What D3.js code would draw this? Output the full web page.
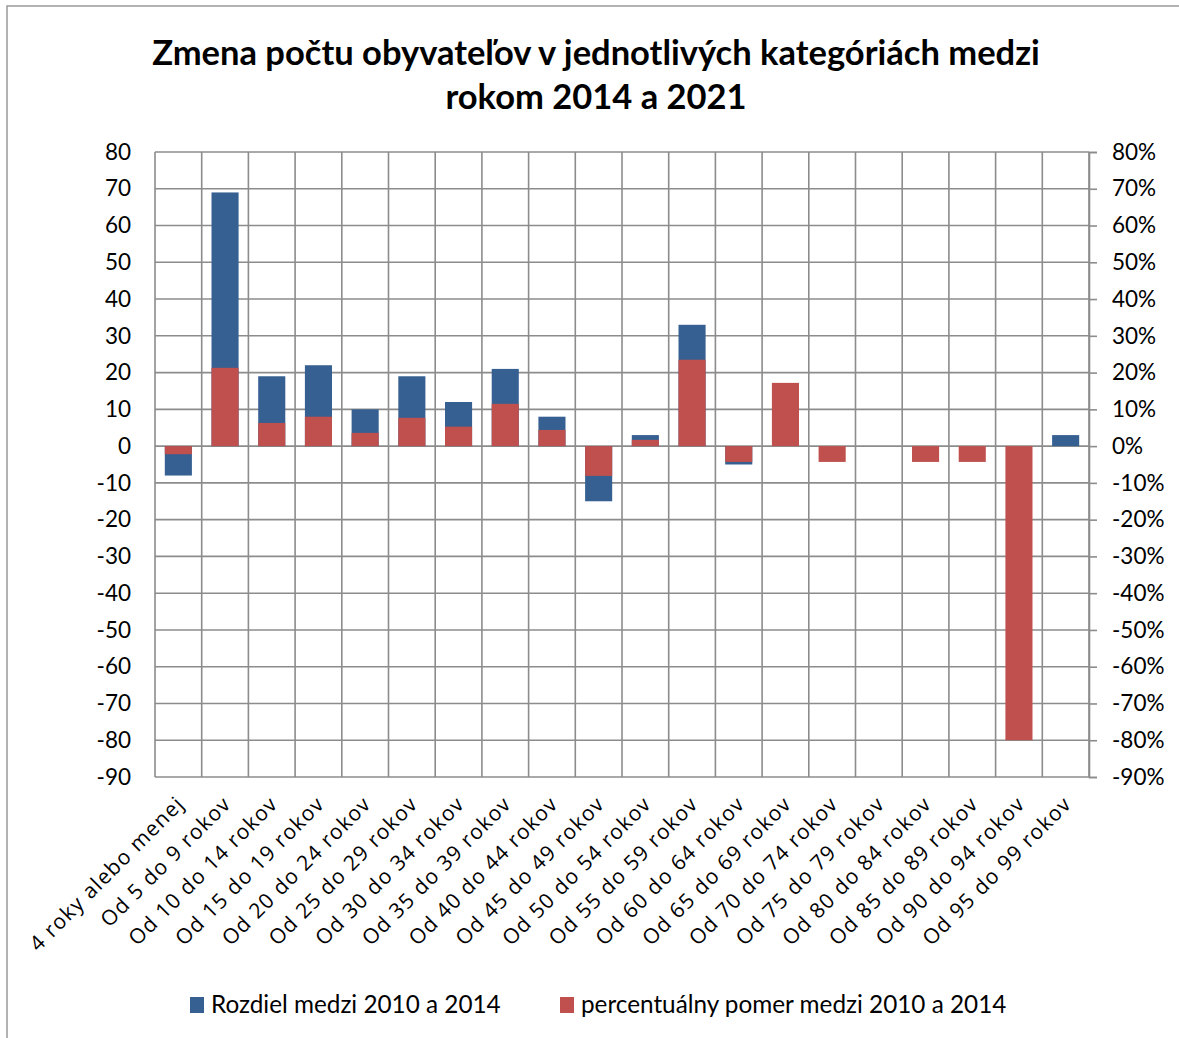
<!DOCTYPE html>
<html>
<head>
<meta charset="utf-8">
<script src="https://cdn.jsdelivr.net/npm/d3@7"></script>
<style>
  body { margin: 0; background: #fff; }
  svg { display: block; font-family: "Lato", "Open Sans", sans-serif; }
</style>
</head>
<body>
<svg id="chart" width="1179" height="1038"></svg>
<script>
const categories = [
  "4 roky alebo menej", "Od 5 do 9 rokov", "Od 10 do 14 rokov", "Od 15 do 19 rokov",
  "Od 20 do 24 rokov", "Od 25 do 29 rokov", "Od 30 do 34 rokov", "Od 35 do 39 rokov",
  "Od 40 do 44 rokov", "Od 45 do 49 rokov", "Od 50 do 54 rokov", "Od 55 do 59 rokov",
  "Od 60 do 64 rokov", "Od 65 do 69 rokov", "Od 70 do 74 rokov", "Od 75 do 79 rokov",
  "Od 80 do 84 rokov", "Od 85 do 89 rokov", "Od 90 do 94 rokov", "Od 95 do 99 rokov"
];
// Rozdiel medzi 2010 a 2014 (left axis)
const rozdiel = [-8, 69, 19, 22, 10, 19, 12, 21, 8, -15, 3, 33, -5, 0, 0, 0, 0, 0, 0, 3];
// percentuálny pomer medzi 2010 a 2014 (right axis, %)
const pomer = [-2.2, 21.3, 6.3, 8.0, 3.6, 7.7, 5.3, 11.5, 4.4, -8.1, 1.7, 23.5, -4.3, 17.2, -4.3, 0, -4.3, -4.3, -80, 0];
const leftTicks = [80, 70, 60, 50, 40, 30, 20, 10, 0, -10, -20, -30, -40, -50, -60, -70, -80, -90];

const title = ["Zmena počtu obyvateľov v jednotlivých kategóriách medzi", "rokom 2014 a 2021"];
const seriesNames = ["Rozdiel medzi 2010 a 2014", "percentuálny pomer medzi 2010 a 2014"];
const colors = ["#366092", "#C0504D"];

const svg = d3.select("#chart");
const margin = { left: 155, right: 1089, top: 152, bottom: 777 };
const gridColor = "#8c8c8c";

// chart border (left and top edges visible)
svg.append("path")
  .attr("d", "M7,1038 L7,6 L1179,6")
  .attr("fill", "none")
  .attr("stroke", "#999")
  .attr("stroke-width", 1.5);

// title
svg.append("g")
  .selectAll("text")
  .data(title)
  .enter()
  .append("text")
  .attr("x", 596)
  .attr("y", (d, i) => 65 + i * 44)
  .attr("text-anchor", "middle")
  .attr("font-weight", "bold")
  .attr("font-size", 34.5)
  .attr("fill", "#000")
  .text((d) => d);

const x = d3.scaleBand().domain(categories).range([margin.left, margin.right]).paddingInner(0).paddingOuter(0);
const yLeft = d3.scaleLinear().domain([-90, 80]).range([margin.bottom, margin.top]);
const yRight = d3.scaleLinear().domain([-0.9, 0.8]).range([margin.bottom, margin.top]);

// horizontal gridlines
svg.append("g")
  .selectAll("line")
  .data(leftTicks)
  .enter()
  .append("line")
  .attr("x1", margin.left)
  .attr("x2", margin.right)
  .attr("y1", (d) => yLeft(d))
  .attr("y2", (d) => yLeft(d))
  .attr("stroke", gridColor)
  .attr("stroke-width", 1.6);

// vertical gridlines at category boundaries
const bounds = categories.map((c) => x(c)).concat([margin.right]);
svg.append("g")
  .selectAll("line")
  .data(bounds)
  .enter()
  .append("line")
  .attr("x1", (d) => d)
  .attr("x2", (d) => d)
  .attr("y1", margin.top)
  .attr("y2", margin.bottom)
  .attr("stroke", gridColor)
  .attr("stroke-width", 1.6);

const barW = x.bandwidth() * 0.58;
const barOff = (x.bandwidth() - barW) / 2;

// blue series (behind)
svg.append("g")
  .selectAll("rect")
  .data(rozdiel)
  .enter()
  .append("rect")
  .attr("x", (d, i) => x(categories[i]) + barOff)
  .attr("width", barW)
  .attr("y", (d) => yLeft(Math.max(d, 0)))
  .attr("height", (d) => Math.abs(yLeft(d) - yLeft(0)))
  .attr("fill", colors[0]);

// red series (front)
svg.append("g")
  .selectAll("rect")
  .data(pomer)
  .enter()
  .append("rect")
  .attr("x", (d, i) => x(categories[i]) + barOff)
  .attr("width", barW)
  .attr("y", (d) => yRight(Math.max(d / 100, 0)))
  .attr("height", (d) => Math.abs(yRight(d / 100) - yRight(0)))
  .attr("fill", colors[1]);

const hyphen = (s) => s.replace("\u2212", "-");

// left axis
const leftAxis = svg.append("g")
  .attr("transform", `translate(${margin.left},0)`)
  .call(d3.axisLeft(yLeft).tickValues(leftTicks).tickSize(0).tickPadding(24)
    .tickFormat((d) => hyphen(d3.format("d")(d))));
leftAxis.select(".domain").remove();
leftAxis.selectAll("text").attr("font-size", 22.5).attr("fill", "#000").attr("font-family", "Lato, 'Open Sans', sans-serif");

// right axis
const rightAxis = svg.append("g")
  .attr("transform", `translate(${margin.right},0)`)
  .call(d3.axisRight(yRight).tickValues(leftTicks.map((t) => t / 100)).tickSize(8).tickPadding(15)
    .tickFormat((d) => hyphen(d3.format(".0%")(d))));
rightAxis.select(".domain").attr("stroke", gridColor).attr("stroke-width", 1.6);
rightAxis.selectAll("line").attr("stroke", gridColor).attr("stroke-width", 1.6);
rightAxis.selectAll("text").attr("font-size", 22.5).attr("fill", "#000").attr("font-family", "Lato, 'Open Sans', sans-serif");

// category labels
svg.append("g")
  .selectAll("text")
  .data(categories)
  .enter()
  .append("text")
  .attr("transform", (d) => `translate(${x(d) + x.bandwidth() / 2 + 2},${margin.bottom + 23}) rotate(-45)`)
  .attr("text-anchor", "end")
  .attr("dy", "0.35em")
  .attr("font-family", "'Open Sans', sans-serif")
  .attr("font-size", 21)
  .attr("letter-spacing", 1.2)
  .attr("fill", "#000")
  .text((d) => d);

// legend
const legendX = [190, 560];
const legend = svg.append("g")
  .selectAll("g")
  .data(seriesNames)
  .enter()
  .append("g")
  .attr("transform", (d, i) => `translate(${legendX[i]},997)`);
legend.append("rect").attr("width", 14).attr("height", 16).attr("fill", (d, i) => colors[i]);
legend.append("text")
  .attr("x", 21)
  .attr("y", 16)
  .attr("font-size", 24.3)
  .attr("fill", "#000")
  .text((d) => d);
</script>
</body>
</html>
